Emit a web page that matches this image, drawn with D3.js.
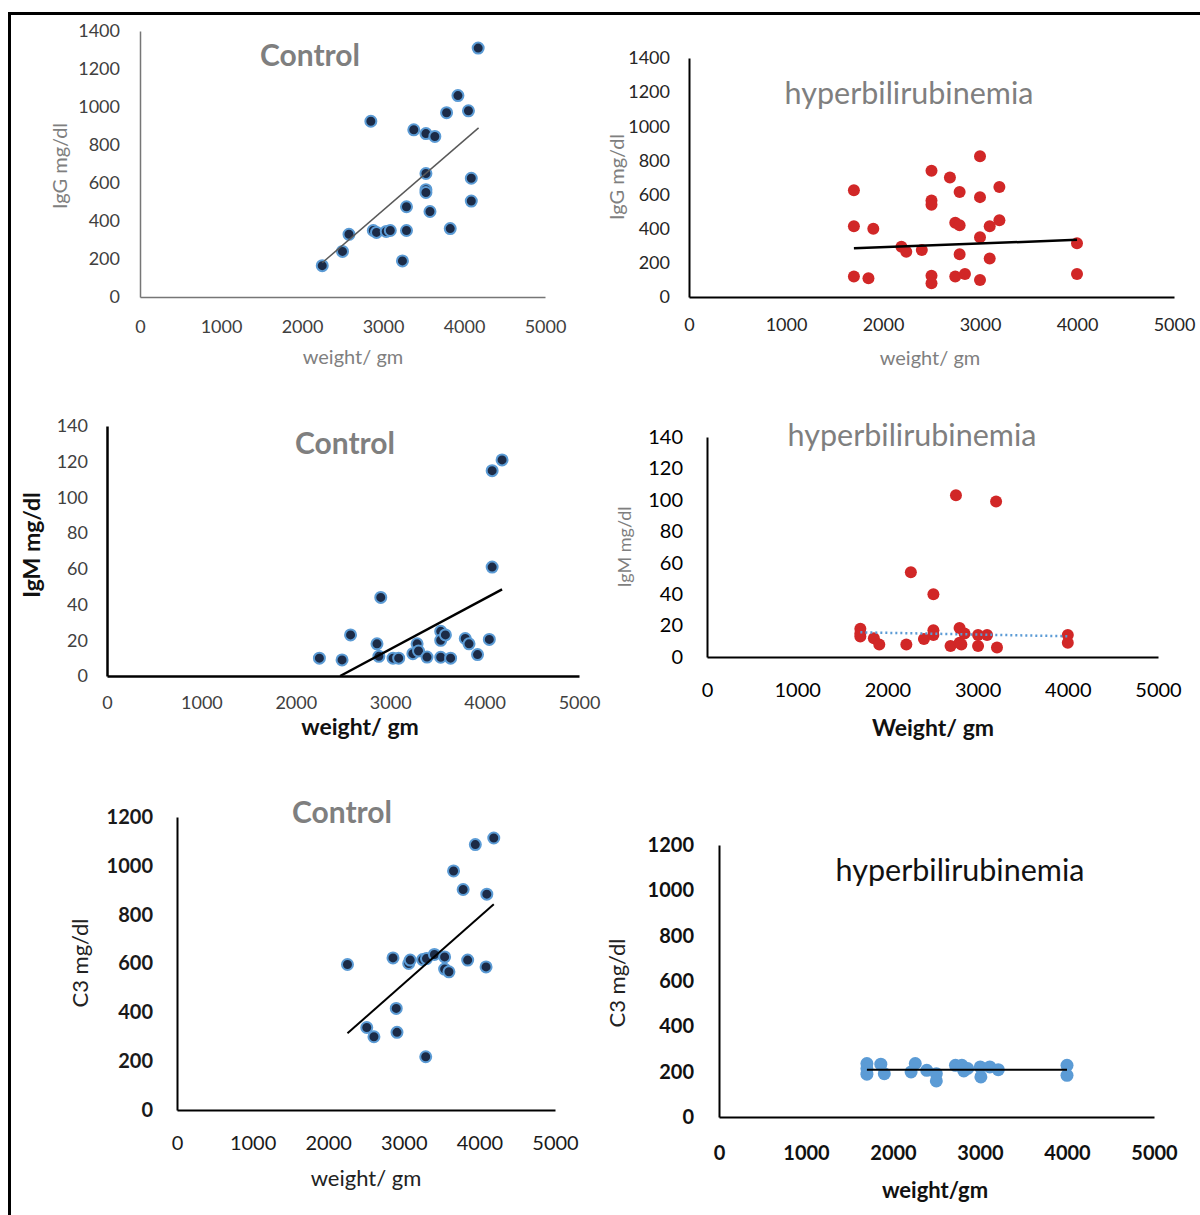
<!DOCTYPE html>
<html><head><meta charset="utf-8">
<script src="https://cdn.jsdelivr.net/npm/d3@7"></script>
<style>body{margin:0;background:#fff}svg{display:block;font-family:Lato,"Open Sans",sans-serif}</style>
</head><body><svg id="c" width="1200" height="1215"></svg>
<script>
// ---- tick labels ----
const weightTicks = [0, 1000, 2000, 3000, 4000, 5000];
const igGTicks = [0, 200, 400, 600, 800, 1000, 1200, 1400];
const igMTicks = [0, 20, 40, 60, 80, 100, 120, 140];
const c3Ticks = [0, 200, 400, 600, 800, 1000, 1200];

// ---- IgG control ----
const igGControlWeight = [2250,2500,2580,2850,2880,2920,3040,3090,3240,3290,3290,3380,3530,3640,3530,3530,3530,3580,3785,3830,3925,4055,4090,4090,4175];
const igGControlValue  = [165,240,330,925,350,340,345,350,190,350,475,880,860,845,650,565,550,450,970,360,1060,980,625,505,1310];
const igGControlTrendWeight = [2250, 4180];
const igGControlTrendValue  = [180, 890];

// ---- IgG hyperbilirubinemia ----
const igGHyperWeight = [1700,1700,1700,1850,1900,2190,2240,2400,2500,2500,2500,2500,2500,2690,2745,2790,2790,2790,2745,2845,3000,3000,3000,3000,3100,3100,3200,3200,4000,4000];
const igGHyperValue  = [625,415,120,110,400,295,265,275,740,565,540,125,80,700,435,420,615,250,120,135,825,585,350,100,415,225,645,450,315,135];
const igGHyperTrendWeight = [1700, 4000];
const igGHyperTrendValue  = [285, 335];

// ---- IgM control ----
const igMControlWeight = [2250,2490,2580,2860,2880,2900,3030,3090,3240,3285,3300,3390,3535,3535,3535,3585,3640,3795,3835,3925,4050,4080,4080,4185];
const igMControlValue  = [10,9,23,18,11,44,10,10,12.5,18,14,10.6,10.5,25,20,23,10,21,18,12,20.5,61,115,121];
const igMControlTrendWeight = [2470, 4185];
const igMControlTrendValue  = [0, 48.5];

// ---- IgM hyperbilirubinemia ----
const igMHyperWeight = [1700,1700,1700,1850,1910,2210,2260,2405,2510,2510,2510,2700,2760,2800,2800,2820,2855,3005,3005,3105,3205,3215,4000,4000];
const igMHyperValue  = [18,15,13,12,8,8,54,11.5,40,17,14,7,103,9,18.5,8,15,14,7,14,99,6,14,9];
const igMHyperTrendWeight = [1700, 4000];
const igMHyperTrendValue  = [15.7, 13.2];

// ---- C3 control ----
const c3ControlWeight = [2255,2510,2605,2857,2900,2910,3065,3085,3250,3290,3300,3405,3540,3540,3597,3658,3785,3845,3946,4088,4098,4190];
const c3ControlValue  = [596,338,300,623,416,318,600,614,616,218,620,637,627,577,566,979,903,614,1087,586,884,1114];
const c3ControlTrendWeight = [2255, 4190];
const c3ControlTrendValue  = [314, 843];

// ---- C3 hyperbilirubinemia ----
const c3HyperWeight = [1700,1700,1700,1860,1900,2208,2256,2388,2498,2498,2718,2792,2814,2858,3003,3010,3113,3210,4000,4000];
const c3HyperValue  = [236,214,189,233,191,199,236,206,191,159,228,228,203,214,221,177,221,209,228,184];
const c3HyperTrendWeight = [1700, 4000];
const c3HyperTrendValue  = [209, 209];

// ---- styles ----
const controlDot = {r: 5.5, fill: '#1c2b47', stroke: '#5b9bd5', sw: 2};
const redDot = {r: 6, fill: '#d12727', stroke: 'none', sw: 0};
const blueDot = {r: 6.5, fill: '#5b9bd5', stroke: 'none', sw: 0};
const gray = '#7f7f7f';

const panels = [
  {x0:140,x1:545,yb:297,yt:31,yTicks:igGTicks,
   yTick:{size:18,weight:400,color:'#404040'}, xTick:{size:18,weight:400,color:'#404040'},
   yPad:20,xOff:30,axisColor:'#767676',axisW:1.5,
   title:{text:'Control',x:310,y:55,size:30,weight:700,color:gray},
   ylab:{text:'IgG mg/dl',x:60,y:166,size:20,weight:400,color:gray},
   xlab:{text:'weight/ gm',x:353,y:357,size:20,weight:400,color:gray},
   xs:igGControlWeight,ys:igGControlValue,dot:controlDot,
   tx:igGControlTrendWeight,ty:igGControlTrendValue,trend:{color:'#595959',w:1.5,dash:null}},
  {x0:689,x1:1174,yb:297,yt:58,yTicks:igGTicks,
   yTick:{size:18,weight:400,color:'#262626'}, xTick:{size:18,weight:400,color:'#262626'},
   yPad:19,xOff:28,axisColor:'#000',axisW:2,
   title:{text:'hyperbilirubinemia',x:909,y:93,size:30.5,weight:400,color:gray},
   ylab:{text:'IgG mg/dl',x:617,y:177,size:20,weight:400,color:gray},
   xlab:{text:'weight/ gm',x:930,y:358,size:20,weight:400,color:gray},
   xs:igGHyperWeight,ys:igGHyperValue,dot:redDot,
   tx:igGHyperTrendWeight,ty:igGHyperTrendValue,trend:{color:'#000',w:2.5,dash:null}},
  {x0:107,x1:579,yb:676,yt:426,yTicks:igMTicks,
   yTick:{size:18,weight:400,color:'#404040'}, xTick:{size:18,weight:400,color:'#404040'},
   yPad:19,xOff:27,axisColor:'#000',axisW:2.5,
   title:{text:'Control',x:345,y:443,size:30,weight:700,color:gray},
   ylab:{text:'IgM mg/dl',x:32,y:545,size:23,weight:700,color:'#111'},
   xlab:{text:'weight/ gm',x:360,y:727,size:23,weight:700,color:'#111'},
   xs:igMControlWeight,ys:igMControlValue,dot:controlDot,
   tx:igMControlTrendWeight,ty:igMControlTrendValue,trend:{color:'#000',w:2.5,dash:null}},
  {x0:707,x1:1158,yb:657,yt:437,yTicks:igMTicks,
   yTick:{size:20,weight:400,color:'#000'}, xTick:{size:20,weight:400,color:'#000'},
   yPad:24,xOff:33,axisColor:'#000',axisW:2,
   title:{text:'hyperbilirubinemia',x:912,y:435,size:30.5,weight:400,color:gray},
   ylab:{text:'IgM mg/dl',x:625,y:547,size:18,weight:400,color:gray},
   xlab:{text:'Weight/ gm',x:933,y:728,size:23,weight:700,color:'#111'},
   xs:igMHyperWeight,ys:igMHyperValue,dot:redDot,
   tx:igMHyperTrendWeight,ty:igMHyperTrendValue,trend:{color:'#5b9bd5',w:2.5,dash:'2,3'}},
  {x0:177,x1:555,yb:1110,yt:817,yTicks:c3Ticks,
   yTick:{size:20,weight:700,color:'#1a1a1a'}, xTick:{size:20,weight:400,color:'#1a1a1a'},
   yPad:24,xOff:33,axisColor:'#000',axisW:2,
   title:{text:'Control',x:342,y:812,size:30,weight:700,color:gray},
   ylab:{text:'C3 mg/dl',x:80,y:963,size:22,weight:400,color:'#222'},
   xlab:{text:'weight/ gm',x:366,y:1178,size:22,weight:400,color:'#222'},
   xs:c3ControlWeight,ys:c3ControlValue,dot:controlDot,
   tx:c3ControlTrendWeight,ty:c3ControlTrendValue,trend:{color:'#000',w:2,dash:null}},
  {x0:719,x1:1154,yb:1117,yt:845,yTicks:c3Ticks,
   yTick:{size:20,weight:700,color:'#111'}, xTick:{size:20,weight:700,color:'#111'},
   yPad:25,xOff:36,axisColor:'#000',axisW:2,
   title:{text:'hyperbilirubinemia',x:960,y:870,size:30.5,weight:400,color:'#111'},
   ylab:{text:'C3 mg/dl',x:617,y:983,size:22,weight:400,color:'#222'},
   xlab:{text:'weight/gm',x:935,y:1190,size:22,weight:700,color:'#111'},
   xs:c3HyperWeight,ys:c3HyperValue,dot:blueDot,
   tx:c3HyperTrendWeight,ty:c3HyperTrendValue,trend:{color:'#000',w:2,dash:null}}
];

const svg = d3.select('#c');

// outer frame
svg.append('line').attr('x1',8).attr('x2',1200).attr('y1',13.5).attr('y2',13.5).attr('stroke','#000').attr('stroke-width',3);
svg.append('line').attr('x1',9.5).attr('x2',9.5).attr('y1',12).attr('y2',1215).attr('stroke','#000').attr('stroke-width',3);

function styleText(sel, f){
  sel.attr('font-family','Lato, "Open Sans", sans-serif').attr('font-size',f.size).attr('font-weight',f.weight).attr('fill',f.color);
}

panels.forEach(p => {
  const ymax = p.yTicks[p.yTicks.length-1];
  const x = d3.scaleLinear().domain([0, 5000]).range([p.x0, p.x1]);
  const y = d3.scaleLinear().domain([0, ymax]).range([p.yb, p.yt]);
  const g = svg.append('g');

  // y axis
  const ya = g.append('g').attr('transform',`translate(${p.x0},0)`)
    .call(d3.axisLeft(y).tickValues(p.yTicks).tickSize(0).tickSizeOuter(0).tickPadding(p.yPad).tickFormat(d3.format('d')));
  ya.select('.domain').attr('stroke',p.axisColor).attr('stroke-width',p.axisW);
  styleText(ya.selectAll('text'), p.yTick);

  // x axis
  const xa = g.append('g').attr('transform',`translate(0,${p.yb})`)
    .call(d3.axisBottom(x).tickValues(weightTicks).tickSize(0).tickSizeOuter(0).tickFormat(d3.format('d')));
  xa.select('.domain').attr('stroke',p.axisColor).attr('stroke-width',p.axisW);
  xa.selectAll('text').attr('y',p.xOff).attr('dy','0.35em');
  styleText(xa.selectAll('text'), p.xTick);

  // points
  const pts = p.xs.map((w,i)=>({w, v:p.ys[i]}));
  g.append('g').selectAll('circle').data(pts).join('circle')
    .attr('cx',d=>x(d.w)).attr('cy',d=>y(d.v)).attr('r',p.dot.r)
    .attr('fill',p.dot.fill).attr('stroke',p.dot.stroke).attr('stroke-width',p.dot.sw);

  // trend line
  const tl = p.tx.map((w,i)=>[w,p.ty[i]]);
  const path = g.append('path').datum(tl)
    .attr('d', d3.line().x(d=>x(d[0])).y(d=>y(d[1])))
    .attr('fill','none').attr('stroke',p.trend.color).attr('stroke-width',p.trend.w);
  if (p.trend.dash) path.attr('stroke-dasharray',p.trend.dash);

  // title
  styleText(g.append('text').attr('x',p.title.x).attr('y',p.title.y).attr('dy','0.35em')
    .attr('text-anchor','middle').text(p.title.text), p.title);
  // y label
  styleText(g.append('text').attr('transform',`translate(${p.ylab.x},${p.ylab.y}) rotate(-90)`)
    .attr('dy','0.35em').attr('text-anchor','middle').text(p.ylab.text), p.ylab);
  // x label
  styleText(g.append('text').attr('x',p.xlab.x).attr('y',p.xlab.y).attr('dy','0.35em')
    .attr('text-anchor','middle').text(p.xlab.text), p.xlab);
});
</script></body></html>
